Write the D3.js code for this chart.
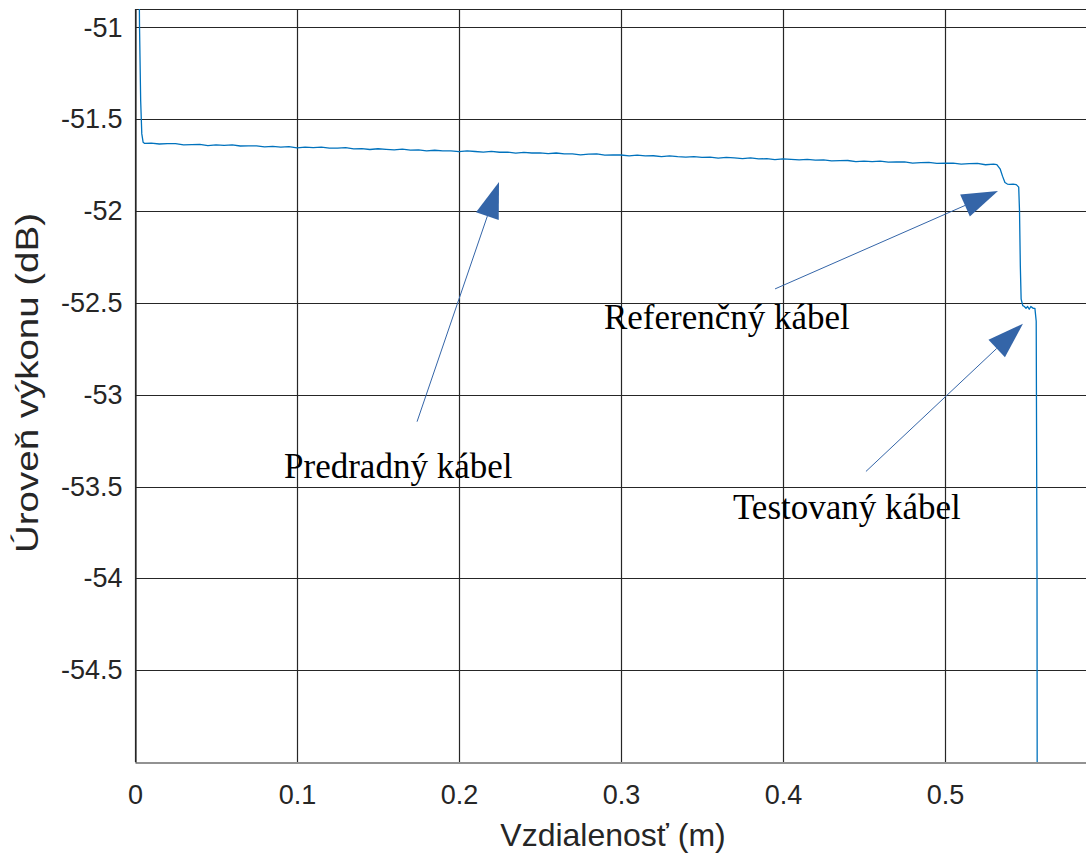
<!DOCTYPE html>
<html>
<head>
<meta charset="utf-8">
<script src="https://cdn.jsdelivr.net/npm/d3@7"></script>
<style>
  html, body { margin: 0; padding: 0; background: #fff; }
  svg { display: block; }
</style>
</head>
<body>
<svg id="chart"></svg>
<script>
const width = 1086;
const height = 856;

// trace: distance (m) and power level (dB)
const distance = [
  0.0015, 0.0022, 0.0028, 0.0035, 0.0042, 0.005, 0.006,
  0.010, 0.015, 0.020, 0.025, 0.030, 0.035, 0.040, 0.045, 0.050, 0.055,
  0.060, 0.065, 0.070, 0.075, 0.080, 0.085, 0.090, 0.095, 0.100, 0.105,
  0.110, 0.115, 0.120, 0.125, 0.130, 0.135, 0.140, 0.145, 0.150, 0.155,
  0.160, 0.165, 0.170, 0.175, 0.180, 0.185, 0.190, 0.195, 0.200, 0.205,
  0.210, 0.215, 0.220, 0.225, 0.230, 0.235, 0.240, 0.245, 0.250, 0.255,
  0.260, 0.265, 0.270, 0.275, 0.280, 0.285, 0.290, 0.295, 0.300, 0.305,
  0.310, 0.315, 0.320, 0.325, 0.330, 0.335, 0.340, 0.345, 0.350, 0.355,
  0.360, 0.365, 0.370, 0.375, 0.380, 0.385, 0.390, 0.395, 0.400, 0.405,
  0.410, 0.415, 0.420, 0.425, 0.430, 0.435, 0.440, 0.445, 0.450, 0.455,
  0.460, 0.465, 0.470, 0.475, 0.480, 0.485, 0.490, 0.495, 0.500, 0.505,
  0.510, 0.515, 0.520, 0.525, 0.530, 0.532,
  0.534, 0.5355, 0.537, 0.5385, 0.540, 0.542, 0.544, 0.5455, 0.546, 0.5465,
  0.547, 0.548, 0.549, 0.550, 0.551, 0.552, 0.553, 0.5545, 0.5555, 0.5563,
  0.5568, 0.557
];
const level = [
  -49.5, -50.4, -51.0, -51.4, -51.58, -51.625, -51.632,
  -51.630, -51.635, -51.633, -51.633, -51.640, -51.638, -51.637, -51.644, -51.640, -51.643,
  -51.640, -51.646, -51.645, -51.645, -51.651, -51.648, -51.652, -51.649, -51.656, -51.652,
  -51.655, -51.652, -51.658, -51.657, -51.655, -51.662, -51.660, -51.665, -51.661, -51.664,
  -51.667, -51.663, -51.668, -51.667, -51.673, -51.669, -51.673, -51.672, -51.677, -51.673,
  -51.676, -51.679, -51.675, -51.680, -51.679, -51.685, -51.681, -51.684, -51.683, -51.688,
  -51.684, -51.689, -51.689, -51.694, -51.690, -51.689, -51.696, -51.695, -51.695, -51.700,
  -51.696, -51.700, -51.699, -51.704, -51.700, -51.704, -51.707, -51.704, -51.708, -51.707,
  -51.712, -51.708, -51.711, -51.715, -51.711, -51.716, -51.715, -51.720, -51.716, -51.719,
  -51.722, -51.719, -51.723, -51.721, -51.727, -51.726, -51.725, -51.731, -51.728, -51.731,
  -51.728, -51.734, -51.733, -51.732, -51.739, -51.736, -51.735, -51.741, -51.740, -51.739,
  -51.745, -51.742, -51.741, -51.748, -51.745, -51.747,
  -51.77, -51.81, -51.845, -51.853, -51.855, -51.853, -51.856, -51.87, -52.0, -52.3,
  -52.48, -52.515, -52.52, -52.53, -52.52, -52.535, -52.52, -52.53, -52.53, -52.6,
  -54.0, -56.0
];

const xTicks = [0, 0.1, 0.2, 0.3, 0.4, 0.5];
const yTicks = [-51, -51.5, -52, -52.5, -53, -53.5, -54, -54.5];

// annotations: label, text anchor, arrow tail and arrow tip in data units
const labels = ["Predradný kábel", "Referenčný kábel", "Testovaný kábel"];
const labelX = [0.092, 0.2895, 0.3691];
const labelY = [-53.451, -52.641, -53.679];
const tailX = [0.1741, 0.3951, 0.4512];
const tailY = [-53.147, -52.424, -53.418];
const tipX = [0.2247, 0.5327, 0.5481];
const tipY = [-51.842, -51.891, -52.614];

const margin = {left: 135, top: 9, right: -21, bottom: 94};
const ink = "#262626";
const lineColor = "#0072BD";
const arrowColor = "#3465A8";
const sans = "'Liberation Sans', Arial, sans-serif";

const svg = d3.select("#chart")
    .attr("width", width)
    .attr("height", height);

const x = d3.scaleLinear()
    .domain([0, 0.6])
    .range([margin.left, width - margin.right]);
const y = d3.scaleLinear()
    .domain([-55, -50.9])
    .range([height - margin.bottom, margin.top]);

svg.append("clipPath").attr("id", "plotClip")
  .append("rect")
    .attr("x", margin.left)
    .attr("y", margin.top)
    .attr("width", width - margin.right - margin.left)
    .attr("height", height - margin.bottom - margin.top);

// grid
const grid = svg.append("g");
grid.selectAll(".gx")
    .data(xTicks)
    .enter().append("line")
    .attr("x1", d => Math.round(x(d)) + 0.5)
    .attr("x2", d => Math.round(x(d)) + 0.5)
    .attr("y1", y.range()[1])
    .attr("y2", y.range()[0])
    .style("stroke", ink)
    .style("stroke-width", 1.2);
grid.selectAll(".gy")
    .data(yTicks)
    .enter().append("line")
    .attr("x1", x.range()[0])
    .attr("x2", x.range()[1])
    .attr("y1", d => Math.round(y(d)) + 0.5)
    .attr("y2", d => Math.round(y(d)) + 0.5)
    .style("stroke", ink)
    .style("stroke-width", 1.2);

// axes
const xAxis = d3.axisBottom(x)
    .tickValues(xTicks)
    .tickSize(0)
    .tickPadding(22)
    .tickFormat(d => String(d));
const yAxis = d3.axisLeft(y)
    .tickValues(yTicks)
    .tickSize(0)
    .tickPadding(13)
    .tickFormat(d => String(d));

const gx = svg.append("g")
    .attr("transform", `translate(0,${Math.round(y.range()[0]) + 0.5})`)
    .call(xAxis);
const gy = svg.append("g")
    .attr("transform", `translate(${margin.left + 0.5},0)`)
    .call(yAxis);
[gx, gy].forEach(g => {
  g.select(".domain").style("stroke", ink).style("stroke-width", 1.2);
  g.selectAll("text")
      .style("font-family", sans)
      .style("font-size", "27px")
      .style("fill", ink);
});

svg.append("line")
    .attr("x1", x.range()[0])
    .attr("x2", x.range()[1])
    .attr("y1", margin.top + 0.5)
    .attr("y2", margin.top + 0.5)
    .style("stroke", ink)
    .style("stroke-width", 1.2);

// axis titles
svg.append("text")
    .attr("x", 613)
    .attr("y", 846)
    .attr("text-anchor", "middle")
    .style("font-family", sans)
    .style("font-size", "32px")
    .style("fill", ink)
    .text("Vzdialenosť (m)");
svg.append("text")
    .attr("transform", "translate(38,383) rotate(-90)")
    .attr("text-anchor", "middle")
    .attr("textLength", 340)
    .attr("lengthAdjust", "spacingAndGlyphs")
    .style("font-family", sans)
    .style("font-size", "31px")
    .style("fill", ink)
    .text("Úroveň výkonu (dB)");

// trace
const line = d3.line()
    .x((d, i) => x(distance[i]))
    .y((d, i) => y(level[i]));
svg.append("path")
    .datum(level)
    .attr("clip-path", "url(#plotClip)")
    .attr("d", line)
    .style("fill", "none")
    .style("stroke", lineColor)
    .style("stroke-width", 1.3)
    .style("stroke-linejoin", "round");

// annotation arrows
const headLen = 36;
const headHalf = 12;
const notes = svg.append("g");
labels.forEach((label, i) => {
  const x0 = x(tailX[i]), y0 = y(tailY[i]);
  const x1 = x(tipX[i]), y1 = y(tipY[i]);
  const len = Math.hypot(x1 - x0, y1 - y0);
  const ux = (x1 - x0) / len, uy = (y1 - y0) / len;
  const bx = x1 - ux * headLen, by = y1 - uy * headLen;
  notes.append("line")
      .attr("x1", x0).attr("y1", y0)
      .attr("x2", bx).attr("y2", by)
      .style("stroke", arrowColor)
      .style("stroke-width", 1);
  notes.append("path")
      .attr("d", `M${x1},${y1}L${bx - uy * headHalf},${by + ux * headHalf}L${bx + uy * headHalf},${by - ux * headHalf}Z`)
      .style("fill", arrowColor);
  notes.append("text")
      .attr("x", x(labelX[i]))
      .attr("y", y(labelY[i]))
      .style("font-family", "'Liberation Serif', 'Times New Roman', serif")
      .style("font-size", "35px")
      .style("fill", "#000")
      .text(label);
});
</script>
</body>
</html>
